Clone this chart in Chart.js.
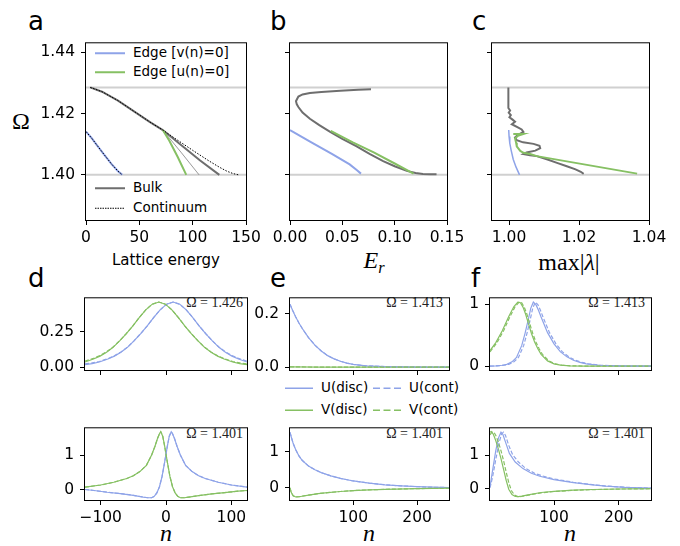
<!DOCTYPE html>
<html>
<head>
<meta charset="utf-8">
<title>Edge and bulk branches</title>
<script src="https://cdn.jsdelivr.net/npm/chart.js@4.4.1/dist/chart.umd.min.js"></script>
<style>
  body{ margin:0; width:680px; height:546px; position:relative; overflow:hidden; background:#fff;
    font-family:'DejaVu Sans',sans-serif; color:#000 }
  canvas{ position:absolute }
  .txt{ position:absolute; white-space:nowrap; line-height:1 }
  .mid{ transform:translate(-50%,-50%) }
  .letter{ font-size:26px }
  .axl{ font-size:15px }
  .math{ font-family:'Liberation Serif',serif; font-size:24px }
  .om{ font-family:'Liberation Serif',serif; font-size:14px; color:#222; transform:translate(-100%,-50%) }
  .leg{ position:absolute; display:flex; align-items:center; font-size:13.5px; line-height:1; white-space:nowrap; transform:translateY(-50%) }
  .leg svg{ margin-right:8px }
</style>
</head>
<body>

<div class="txt letter" style="left:28px;top:8px">a</div>
<div class="txt letter" style="left:270px;top:8px">b</div>
<div class="txt letter" style="left:472px;top:8px">c</div>
<div class="txt letter" style="left:28px;top:265px">d</div>
<div class="txt letter" style="left:270px;top:265px">e</div>
<div class="txt letter" style="left:471px;top:265px">f</div>

<div class="txt math mid" style="left:21px;top:121px">Ω</div>
<div class="txt axl mid" style="left:166px;top:260px">Lattice energy</div>
<div class="txt math mid" style="left:374px;top:260px"><i>E</i><span style="font-size:0.68em;position:relative;top:0.3em"><i>r</i></span></div>
<div class="txt math mid" style="left:569px;top:262px">max|<i>λ</i>|</div>
<div class="txt math mid" style="left:166px;top:533px"><i>n</i></div>
<div class="txt math mid" style="left:369px;top:533px"><i>n</i></div>
<div class="txt math mid" style="left:570px;top:533px"><i>n</i></div>

<div class="txt om" style="left:243px;top:303px">Ω = 1.426</div>
<div class="txt om" style="left:443px;top:303px">Ω = 1.413</div>
<div class="txt om" style="left:645px;top:303px">Ω = 1.413</div>
<div class="txt om" style="left:243px;top:434px">Ω = 1.401</div>
<div class="txt om" style="left:443px;top:434px">Ω = 1.401</div>
<div class="txt om" style="left:645px;top:434px">Ω = 1.401</div>

<div class="leg" style="left:95px;top:53px"><svg width="30" height="4"><line x1="0" y1="2" x2="30" y2="2" stroke="#8ea3e8" stroke-width="2"/></svg>Edge [v(n)=0]</div>
<div class="leg" style="left:95px;top:72px"><svg width="30" height="4"><line x1="0" y1="2" x2="30" y2="2" stroke="#86c063" stroke-width="2"/></svg>Edge [u(n)=0]</div>
<div class="leg" style="left:95px;top:188px"><svg width="30" height="4"><line x1="0" y1="2" x2="30" y2="2" stroke="#6e6e6e" stroke-width="2"/></svg>Bulk</div>
<div class="leg" style="left:95px;top:208px"><svg width="30" height="4"><line x1="0" y1="2" x2="30" y2="2" stroke="#000" stroke-width="1" stroke-dasharray="1.5,1"/></svg>Continuum</div>

<div class="leg" style="left:285px;top:388px"><svg width="28" height="4"><line x1="0" y1="2" x2="28" y2="2" stroke="#8ea3e8" stroke-width="1.5"/></svg>U(disc)</div>
<div class="leg" style="left:373px;top:388px"><svg width="28" height="4"><line x1="0" y1="2" x2="28" y2="2" stroke="#8ea3e8" stroke-width="1.5" stroke-dasharray="7,3.5"/></svg>U(cont)</div>
<div class="leg" style="left:285px;top:410px"><svg width="28" height="4"><line x1="0" y1="2" x2="28" y2="2" stroke="#86c063" stroke-width="1.5"/></svg>V(disc)</div>
<div class="leg" style="left:373px;top:410px"><svg width="28" height="4"><line x1="0" y1="2" x2="28" y2="2" stroke="#86c063" stroke-width="1.5" stroke-dasharray="7,3.5"/></svg>V(cont)</div>

<script>
// colours
const BLUE = '#8ea3e8', GREEN = '#86c063', GRAY = '#6e6e6e', BAND = '#d0d0d0';

// band edges (grey horizontal lines in a, b, c)
const bandEdges = [1.4285, 1.40];

// ---- a: lattice energy vs Omega ----
const aContinuumUpper = [[4,1.4285],[15,1.4271],[30,1.4242],[45,1.4207],[60,1.4172],[72,1.4146],[85,1.4115],[100,1.4080],[115,1.4046],[125,1.4025],[132,1.4012],[138,1.4004],[143,1.4000]];
const aContinuumLower = [[0,1.4141],[5,1.4121],[10,1.4098],[17,1.4066],[24,1.4035],[30,1.4012],[34,1.4000]];
const aBulk = [[4,1.4285],[15,1.4271],[30,1.4242],[45,1.4207],[60,1.4172],[72,1.4146],[90,1.4095],[107,1.4047],[125,1.4000]];
const aBulkThin = [[72,1.4146],[89,1.4074],[106,1.4000]];
const aEdgeV = [[0,1.4141],[5,1.4121],[10,1.4098],[17,1.4066],[24,1.4035],[30,1.4012],[34,1.4000]];
const aEdgeU = [[72,1.4146],[78,1.4112],[86,1.4058],[94,1.4000]];

// ---- b: E_r vs Omega ----
const bBulk = [[0.0774,1.4279],[0.065,1.4277],[0.048,1.4274],[0.030,1.4270],[0.019,1.4267],[0.012,1.4262],[0.008,1.4255],[0.0057,1.4240],[0.0065,1.4230],[0.008,1.4221],[0.012,1.4203],[0.019,1.4183],[0.028,1.4162],[0.038,1.4141],[0.050,1.4117],[0.0637,1.4093],[0.076,1.4068],[0.089,1.4045],[0.100,1.4028],[0.1115,1.4013],[0.120,1.4006],[0.127,1.4003],[0.134,1.4002],[0.140,1.4002]];
const bEdgeU = [[0.0389,1.4143],[0.06,1.4106],[0.08,1.4073],[0.10,1.4037],[0.118,1.4004]];
const bEdgeV = [[0,1.4146],[0.02,1.4107],[0.04,1.4068],[0.057,1.4034],[0.064,1.4015],[0.0678,1.4004]];

// ---- c: max|lambda| vs Omega ----
const cBulk = [[0.9998,1.4285],[0.9998,1.4250],[0.9998,1.4218],[1.0003,1.4210],[0.9999,1.4203],[1.0005,1.4195],[1.0001,1.4188],[1.0010,1.4180],[1.0017,1.4173],[1.0008,1.4165],[1.0025,1.4155],[1.0036,1.4148],[1.0041,1.4140],[1.0025,1.4130],[1.0017,1.4122],[1.0022,1.4113],[1.0040,1.4106],[1.0070,1.4101],[1.0087,1.4095],[1.0089,1.4087],[1.0075,1.4079],[1.0050,1.4073],[1.0041,1.4068],[1.0060,1.4064],[1.0079,1.4061],[1.0110,1.4050],[1.0137,1.4039],[1.0165,1.4028],[1.0190,1.4018],[1.0205,1.4010],[1.0211,1.4005],[1.0211,1.4002]];
const cEdgeU = [[1.0012,1.4133],[1.0041,1.4133],[1.0025,1.4127],[1.0017,1.4119],[1.0020,1.4105],[1.0022,1.4093],[1.0032,1.4078],[1.0041,1.4072],[1.0060,1.4068],[1.0079,1.4061],[1.0366,1.4004]];
const cEdgeV = [[0.9999,1.4146],[1.0000,1.4125],[1.0002,1.4103],[1.0006,1.4080],[1.0012,1.4050],[1.0020,1.4025],[1.0030,1.4000]];

// ---- d, e, f: profiles u (blue) and v (green) vs n ----
const dTopU = [[-124,0.017],[-113,0.025],[-102,0.036],[-89,0.057],[-79,0.078],[-69,0.105],[-59,0.140],[-49,0.185],[-39,0.235],[-29,0.290],[-19,0.350],[-9,0.405],[1,0.445],[11,0.460],[21,0.445],[31,0.405],[41,0.350],[51,0.290],[61,0.235],[71,0.185],[81,0.140],[91,0.105],[101,0.078],[111,0.057],[124,0.036]];
const dTopUc = [[-124,0.023],[-113,0.030],[-102,0.040],[-89,0.060],[-79,0.080],[-69,0.107],[-59,0.141],[-49,0.186],[-39,0.236],[-29,0.290],[-19,0.350],[-9,0.405],[1,0.445],[11,0.460],[21,0.445],[31,0.405],[41,0.350],[51,0.290],[61,0.236],[71,0.186],[81,0.142],[91,0.108],[101,0.082],[111,0.062],[124,0.042]];
const dTopV = [[-124,0.036],[-111,0.057],[-101,0.078],[-91,0.105],[-81,0.140],[-71,0.185],[-61,0.235],[-51,0.290],[-41,0.350],[-31,0.405],[-21,0.445],[-11,0.460],[-1,0.445],[9,0.405],[19,0.350],[29,0.290],[39,0.235],[49,0.185],[59,0.140],[69,0.105],[79,0.078],[89,0.057],[102,0.036],[113,0.025],[124,0.017]];
const dTopVc = [[-124,0.042],[-111,0.062],[-101,0.082],[-91,0.108],[-81,0.142],[-71,0.186],[-61,0.236],[-51,0.290],[-41,0.350],[-31,0.405],[-21,0.445],[-11,0.460],[-1,0.445],[9,0.405],[19,0.350],[29,0.290],[39,0.236],[49,0.186],[59,0.141],[69,0.107],[79,0.080],[89,0.060],[102,0.040],[113,0.030],[124,0.023]];

const eTopU = [[1,0.235],[5,0.212],[10,0.187],[15,0.165],[20,0.145],[30,0.110],[40,0.082],[50,0.060],[60,0.043],[70,0.031],[80,0.022],[90,0.015],[100,0.010],[120,0.005],[150,0.002],[200,0.0],[250,0.0]];
const eTopV = [[1,0.001],[50,0.0],[250,0.0]];

const fTopU = [[1,0.0],[10,0.005],[20,0.015],[27,0.03],[35,0.07],[42,0.14],[50,0.33],[55,0.52],[60,0.74],[64,0.93],[68,1.03],[72,0.99],[76,0.90],[80,0.79],[90,0.54],[100,0.36],[110,0.23],[120,0.15],[130,0.095],[140,0.06],[150,0.038],[170,0.015],[200,0.004],[250,0.0]];
const fTopUc = [[1,0.0],[13,0.005],[23,0.015],[30,0.03],[38,0.07],[45,0.14],[53,0.33],[58,0.52],[63,0.74],[67,0.93],[71,1.03],[75,0.99],[79,0.90],[83,0.79],[93,0.54],[103,0.36],[113,0.23],[123,0.15],[133,0.095],[143,0.06],[153,0.038],[173,0.015],[203,0.004],[250,0.0]];
const fTopV = [[1,0.25],[10,0.38],[20,0.57],[30,0.80],[38,0.96],[44,1.03],[48,1.02],[52,0.95],[56,0.84],[60,0.70],[65,0.53],[70,0.39],[75,0.28],[80,0.19],[90,0.085],[100,0.037],[110,0.016],[125,0.005],[150,0.001],[250,0.0]];
const fTopVc = [[1,0.23],[12,0.38],[22,0.57],[32,0.80],[40,0.96],[46,1.03],[50,1.02],[54,0.95],[58,0.84],[62,0.70],[67,0.53],[72,0.39],[77,0.28],[82,0.19],[92,0.085],[102,0.037],[112,0.016],[127,0.005],[152,0.001],[250,0.0]];

const dBotU = [[-124,0.0],[-110,-0.03],[-90,-0.08],[-70,-0.12],[-50,-0.17],[-35,-0.22],[-28,-0.24],[-22,-0.24],[-18,-0.20],[-14,-0.10],[-10,0.08],[-6,0.38],[-2,0.80],[2,1.25],[5,1.55],[8,1.68],[10,1.62],[13,1.48],[17,1.25],[22,1.00],[30,0.70],[40,0.52],[50,0.40],[60,0.32],[80,0.21],[100,0.13],[124,0.07]];
const dBotV = [[-124,0.07],[-100,0.13],[-80,0.21],[-60,0.32],[-50,0.40],[-40,0.52],[-30,0.70],[-22,1.00],[-17,1.25],[-13,1.48],[-10,1.62],[-8,1.68],[-5,1.55],[-2,1.25],[2,0.80],[6,0.38],[10,0.08],[14,-0.10],[18,-0.20],[22,-0.24],[28,-0.24],[35,-0.22],[50,-0.18],[70,-0.13],[90,-0.09],[110,-0.05],[124,-0.03]];

const eBotU = [[1,1.53],[3,1.40],[6,1.22],[10,1.05],[15,0.88],[20,0.76],[30,0.60],[40,0.50],[50,0.42],[65,0.33],[80,0.26],[100,0.19],[125,0.13],[150,0.085],[175,0.055],[200,0.033],[225,0.018],[250,0.008]];
const eBotV = [[1,0.0],[3,-0.13],[6,-0.22],[10,-0.25],[15,-0.245],[20,-0.23],[30,-0.20],[45,-0.16],[60,-0.13],[80,-0.10],[100,-0.075],[125,-0.055],[150,-0.04],[200,-0.02],[250,-0.008]];

const fBotU = [[1,0.05],[5,0.55],[10,1.15],[14,1.52],[18,1.70],[21,1.63],[25,1.40],[31,1.06],[40,0.80],[52,0.60],[65,0.46],[78,0.37],[100,0.27],[130,0.18],[160,0.11],[180,0.07],[210,0.035],[250,0.01]];
const fBotUc = [[1,0.02],[5,0.35],[10,0.88],[15,1.38],[19,1.65],[22,1.70],[25,1.60],[30,1.30],[36,1.02],[45,0.80],[56,0.61],[70,0.46],[82,0.38],[100,0.29],[130,0.19],[160,0.115],[180,0.075],[210,0.038],[250,0.012]];
const fBotV = [[1,1.70],[3,1.72],[6,1.64],[10,1.44],[14,1.19],[18,0.90],[22,0.58],[26,0.25],[30,-0.02],[35,-0.18],[40,-0.24],[45,-0.245],[50,-0.23],[60,-0.19],[80,-0.12],[100,-0.085],[130,-0.05],[160,-0.03],[200,-0.015],[250,-0.005]];
const fBotVc = [[1,1.62],[4,1.70],[7,1.70],[10,1.60],[14,1.40],[18,1.14],[22,0.84],[26,0.50],[30,0.18],[34,-0.06],[39,-0.20],[44,-0.245],[50,-0.24],[60,-0.20],[80,-0.13],[100,-0.09],[130,-0.055],[160,-0.033],[200,-0.016],[250,-0.006]];

// ---- axes: tick values and labels ----
const omegaTicks = [1.40, 1.42, 1.44], omegaLabels = ['1.40', '1.42', '1.44'];
const aTicks = [0, 50, 100, 150], aLabels = ['0', '50', '100', '150'];
const bTicks = [0, 0.05, 0.10, 0.15], bLabels = ['0.00', '0.05', '0.10', '0.15'];
const cTicks = [1.00, 1.02, 1.04], cLabels = ['1.00', '1.02', '1.04'];
const dTicks = [-100, 0, 100], dLabels = ['\u2212100', '0', '100'];
const efTicks = [100, 200], efLabels = ['100', '200'];

// ---- drawing ----
Chart.defaults.font.family = "'DejaVu Sans', sans-serif";
Chart.defaults.color = '#000';

const PAD = { l:60, r:24, t:12, b:32 };

const frame = {
  id: 'frame',
  afterDraw(c){
    const a = c.chartArea, g = c.ctx;
    g.save(); g.strokeStyle = '#000'; g.lineWidth = 1;
    g.strokeRect(a.left - 0.5, a.top - 0.5, a.right - a.left + 1, a.bottom - a.top + 1);
    g.restore();
  }
};

function line(pts, color, width, dash){
  return { data: pts.map(p => ({x:p[0], y:p[1]})), borderColor: color, borderWidth: width,
    borderDash: dash || [], showLine: true, pointRadius: 0, fill: false, tension: 0 };
}
function hline(y, x0, x1){ return line([[x0, y], [x1, y]], BAND, 2); }

function axis(a, dir){
  return {
    type: 'linear', min: a.min, max: a.max,
    afterFit: s => { if (dir === 'x') s.height = PAD.b; else s.width = PAD.l; },
    afterBuildTicks: s => { s.ticks = a.ticks.map(v => ({value: v})); },
    ticks: { autoSkip: false, maxRotation: 0, padding: dir === 'x' ? 4 : 6, font: {size: 15.5}, color: '#000',
      callback: (v, i) => a.labels ? a.labels[i] : '' },
    grid: { display: true, drawOnChartArea: false, drawTicks: true, tickLength: 5, color: '#000', lineWidth: 1 },
    border: { display: false }
  };
}

function panel(box, xa, ya, sets){
  const cv = document.createElement('canvas');
  const W = box.w + PAD.l + PAD.r, H = box.h + PAD.t + PAD.b;
  cv.width = W; cv.height = H;
  cv.style.left = (box.l - PAD.l) + 'px';
  cv.style.top = (box.t - PAD.t) + 'px';
  cv.style.width = W + 'px'; cv.style.height = H + 'px';
  document.body.appendChild(cv);
  new Chart(cv, {
    type: 'scatter',
    data: { datasets: sets },
    options: {
      responsive: false, animation: false, events: [], devicePixelRatio: 1,
      layout: { autoPadding: false, padding: { left: 0, top: PAD.t, right: PAD.r, bottom: 0 } },
      plugins: { legend: {display: false}, tooltip: {enabled: false} },
      scales: { x: axis(xa, 'x'), y: axis(ya, 'y') }
    },
    plugins: [frame]
  });
}

const omegaAxis = labels => ({ min: 1.38528, max: 1.44288, ticks: omegaTicks, labels });

// a
panel({l:86, t:40, w:160, h:180},
  { min: 0, max: 150, ticks: aTicks, labels: aLabels }, omegaAxis(omegaLabels), [
    line(aContinuumUpper, '#000', 1, [1.5, 1.5]),
    line(aContinuumLower, '#000', 1, [1.5, 1.5]),
    line(aEdgeV, BLUE, 2),
    line(aEdgeU, GREEN, 2),
    line(aBulkThin, GRAY, 0.7),
    line(aBulk, GRAY, 2),
    hline(bandEdges[0], 0, 150), hline(bandEdges[1], 0, 150)
  ]);

// b
panel({l:290, t:40, w:157, h:180},
  { min: 0, max: 0.15, ticks: bTicks, labels: bLabels }, omegaAxis(null), [
    line(bEdgeU, GREEN, 2),
    line(bBulk, GRAY, 2),
    line(bEdgeV, BLUE, 2),
    hline(bandEdges[0], 0, 0.15), hline(bandEdges[1], 0, 0.15)
  ]);

// c
panel({l:492, t:40, w:157, h:180},
  { min: 0.99512, max: 1.04, ticks: cTicks, labels: cLabels }, omegaAxis(null), [
    line(cEdgeU, GREEN, 2),
    line(cBulk, GRAY, 2),
    line(cEdgeV, BLUE, 1.5),
    hline(bandEdges[0], 0.99, 1.05), hline(bandEdges[1], 0.99, 1.05)
  ]);

function profiles(U, Uc, V, Vc){
  return [ line(Vc, GREEN, 1.2, [4, 2]), line(Uc, BLUE, 1.2, [4, 2]), line(V, GREEN, 1.2), line(U, BLUE, 1.2) ];
}

// d
panel({l:85, t:295, w:162, h:75},
  { min: -124, max: 124, ticks: dTicks, labels: null },
  { min: -0.0203, max: 0.4865, ticks: [0, 0.25], labels: ['0.00', '0.25'] },
  profiles(dTopU, dTopUc, dTopV, dTopVc));
panel({l:85, t:425, w:162, h:75},
  { min: -124, max: 124, ticks: dTicks, labels: dLabels },
  { min: -0.306, max: 1.778, ticks: [0, 1], labels: ['0', '1'] },
  profiles(dBotU, dBotU, dBotV, dBotV));

// e
panel({l:290, t:295, w:159, h:75},
  { min: 1, max: 250, ticks: efTicks, labels: null },
  { min: -0.0107, max: 0.257, ticks: [0, 0.2], labels: ['0.0', '0.2'] },
  profiles(eTopU, eTopU, eTopV, eTopV));
panel({l:290, t:425, w:159, h:75},
  { min: 1, max: 250, ticks: efTicks, labels: efLabels },
  { min: -0.334, max: 1.64, ticks: [0, 1], labels: ['0', '1'] },
  profiles(eBotU, eBotU, eBotV, eBotV));

// f
panel({l:490, t:295, w:161, h:75},
  { min: 1, max: 250, ticks: efTicks, labels: null },
  { min: -0.0615, max: 1.092, ticks: [0, 1], labels: ['0', '1'] },
  profiles(fTopU, fTopUc, fTopV, fTopVc));
panel({l:490, t:425, w:161, h:75},
  { min: 1, max: 250, ticks: efTicks, labels: efLabels },
  { min: -0.346, max: 1.816, ticks: [0, 1], labels: ['0', '1'] },
  profiles(fBotU, fBotUc, fBotV, fBotVc));
</script>
</body>
</html>
